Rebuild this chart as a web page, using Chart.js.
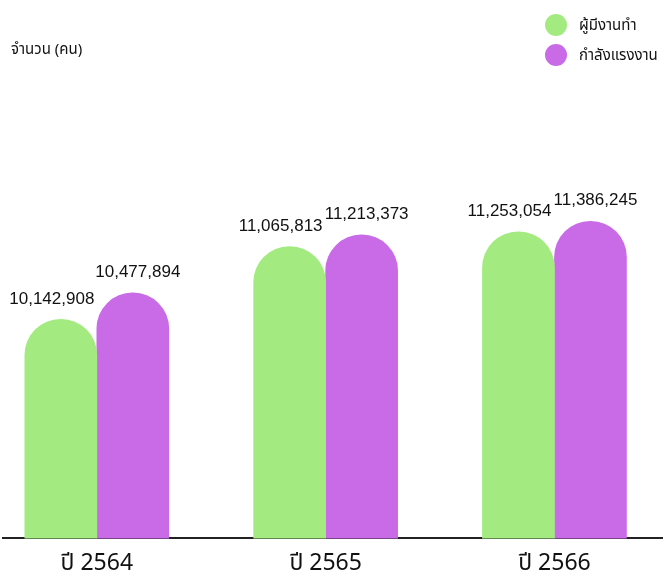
<!DOCTYPE html>
<html>
<head>
<meta charset="utf-8">
<script src="https://cdn.jsdelivr.net/npm/chart.js@4.4.1/dist/chart.umd.min.js"></script>
<style>
  html, body { margin: 0; padding: 0; background: #fff; }
  #wrap { position: relative; width: 670px; height: 571px; }
  #unit { position: absolute; left: 11px; top: 38px; font: 15px "Noto Sans Thai", "Noto Sans", sans-serif; color: #111; }
  #legend { position: absolute; left: 545px; top: 10px; font: 15px "Noto Sans Thai", "Noto Sans", sans-serif; color: #111; }
  #legend div { display: flex; align-items: center; height: 30px; }
  #legend span.dot { width: 22px; height: 22px; border-radius: 50%; margin-right: 12px; }
</style>
</head>
<body>
<div id="wrap">
  <canvas id="myChart" width="670" height="571"></canvas>
  <div id="unit">จำนวน (คน)</div>
  <div id="legend"></div>
</div>
<script>
'use strict';
// data
var years = ['ปี 2564', 'ปี 2565', 'ปี 2566'];
var employed = [10142908, 11065813, 11253054];   // ผู้มีงานทำ
var labourForce = [10477894, 11213373, 11386245]; // กำลังแรงงาน
var seriesNames = ['ผู้มีงานทำ', 'กำลังแรงงาน'];
var colors = ['#a3eb80', '#c96be6'];

function toPoints(arr){
    return arr.map(function(v, i){ return {x: i, y: v}; });
}

// labels above each bar (green ones nudged left, purple right so they don't collide)
var labelShift = [-9, 5];
var valueLabels = {
    id: 'valueLabels',
    afterDatasetsDraw: function(chart){
        var ctx = chart.ctx;
        ctx.save();
        ctx.font = '17px "Liberation Sans", Arial, sans-serif';
        ctx.fillStyle = '#111';
        ctx.textAlign = 'center';
        ctx.textBaseline = 'bottom';
        chart.data.datasets.forEach(function(ds, di){
            chart.getDatasetMeta(di).data.forEach(function(bar, i){
                ctx.fillText(ds.data[i].y.toLocaleString('en-US'), bar.x + labelShift[di], bar.y - 12);
            });
        });
        ctx.restore();
    }
};

var ctx = document.getElementById('myChart').getContext('2d');
var chart = new Chart(ctx, {
    type: 'bar',
    data: {
        datasets: [{
            label: seriesNames[0],
            data: toPoints(employed),
            backgroundColor: colors[0]
        }, {
            label: seriesNames[1],
            data: toPoints(labourForce),
            backgroundColor: colors[1]
        }]
    },
    options: {
        responsive: false,
        animation: false,
        layout: { padding: { left: 3, right: 8, top: 97, bottom: -21 } },
        datasets: {
            bar: {
                barThickness: 72,
                borderRadius: { topLeft: 36, topRight: 36, bottomLeft: 0, bottomRight: 0 },
                borderSkipped: false
            }
        },
        scales: {
            x: {
                type: 'linear',
                offset: false,
                min: -0.41,
                max: 2.47,
                afterBuildTicks: function(axis){
                    axis.ticks = years.map(function(y, i){ return {value: i}; });
                },
                ticks: {
                    padding: 13,
                    color: '#111',
                    font: { family: '"Noto Sans Thai", "Noto Sans", sans-serif', size: 23 },
                    callback: function(value){ return years[value]; }
                },
                grid: { display: false, drawTicks: false },
                border: { display: true, color: '#222', width: 2 }
            },
            y: {
                display: false,
                min: 7364000,
                max: 12963000
            }
        },
        plugins: {
            legend: { display: false },
            tooltip: { enabled: false }
        }
    },
    plugins: [valueLabels]
});

// legend
var legendDiv = document.getElementById('legend');
chart.data.datasets.forEach(function(ds){
    var row = document.createElement('div');
    var dot = document.createElement('span');
    dot.className = 'dot';
    dot.style.background = ds.backgroundColor;
    row.appendChild(dot);
    row.appendChild(document.createTextNode(ds.label));
    legendDiv.appendChild(row);
});
</script>
</body>
</html>
